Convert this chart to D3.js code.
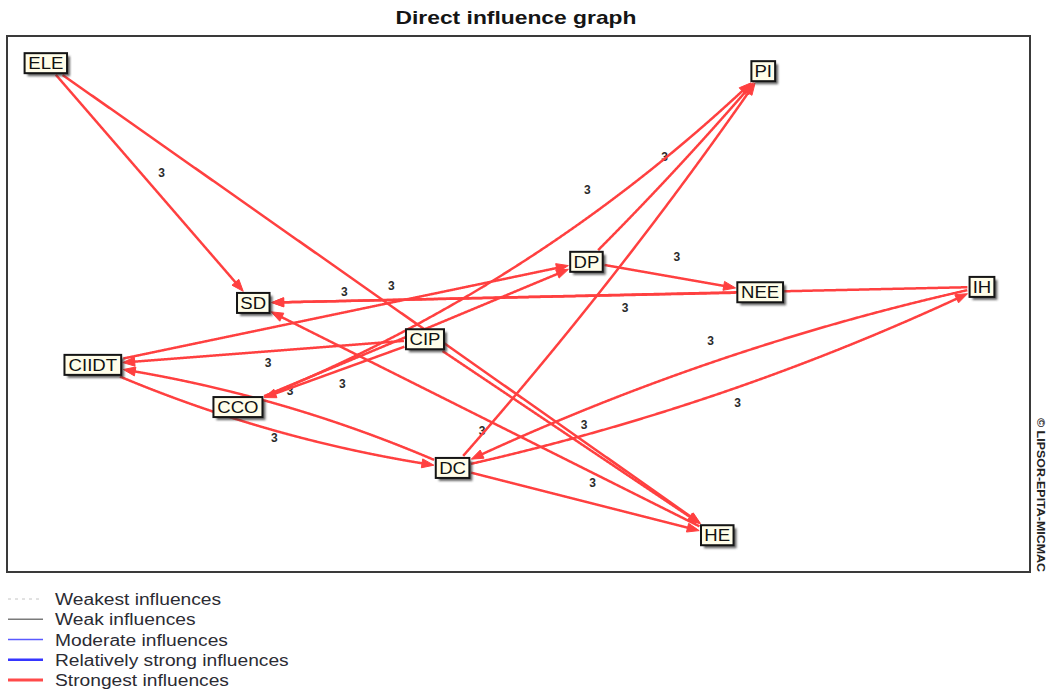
<!DOCTYPE html>
<html><head><meta charset="utf-8">
<script src="https://cdn.jsdelivr.net/npm/d3@7"></script>
<style>
body{margin:0;background:#fff;}
svg{display:block;font-family:"Liberation Sans",Arial,sans-serif;}
</style>
</head><body>
<svg id="c" width="1056" height="691"></svg>
<script>
// ---------- data ----------
const chartTitle = "Direct influence graph";
const creditText = "© LIPSOR-EPITA-MICMAC";
const nodeNames = ["ELE","PI","DP","SD","NEE","IH","CIP","CIIDT","CCO","DC","HE"];
// layout coordinates (0-1000 in both directions of the plot frame)
const nodeX = [37,739,566,240,736,953,408,83,225,435,694];
const nodeY = [49,64,421,498,478,468,566,614,693,807,933];

const edgeFrom  = ["ELE","ELE","NEE","IH","DP","CCO","DP","DC","CIP","CCO","CIP","CIIDT","DC","CIP","DC","IH","DC","CIIDT","HE"];
const edgeTo    = ["SD","HE","SD","SD","NEE","PI","PI","PI","CIIDT","DP","CCO","DC","CIIDT","HE","HE","DC","IH","DP","SD"];
const edgeValue = [3,3,3,3,3,3,3,3,3,3,3,3,3,3,3,3,3,3,3];
const edgeBend  = [0,0,0,0,0,0.10,0.02,0.03,0,0,0,0.07,0.07,0,0,0.057,0.057,0,0];
const labelT    = [0.50,0.50,0.82,0.49,0.50,0.66,0.50,0.095,0.475,0.28,0.725,0.52,null,0.51,0.51,0.49,0.52,null,null];
const labelOff  = [-16,-17,10,-13,-21,5,-14,0,-11,18,-2,20,0,-18,-20,37,30,0,0];

const legendLabels = ["Weakest influences","Weak influences","Moderate influences","Relatively strong influences","Strongest influences"];

// ---------- drawing ----------
const svg = d3.select("#c");
const xs = d3.scaleLinear().domain([0,1000]).range([8,1030]);
const ys = d3.scaleLinear().domain([0,1000]).range([37,571]);
const RED = "#ff4040";

const defs = svg.append("defs");
defs.append("filter").attr("id","sh").attr("x","-30%").attr("y","-30%").attr("width","160%").attr("height","160%")
  .append("feGaussianBlur").attr("stdDeviation",1.3);

// title
svg.append("text").attr("x",516).attr("y",24).attr("text-anchor","middle")
  .attr("font-size",19).attr("font-weight","bold").attr("fill","#151515")
  .attr("textLength",241).attr("lengthAdjust","spacingAndGlyphs").text(chartTitle);

// frame
svg.append("rect").attr("x",7).attr("y",36).attr("width",1023).attr("height",536)
  .attr("fill","#fff").attr("stroke","#3a3a3a").attr("stroke-width",2);

const labelG = svg.append("g");
const edgeG = svg.append("g");
const nodeG = svg.append("g");

// nodes (measure first)
const nodes = nodeNames.map((n,i)=>({name:n, cx:xs(nodeX[i]), cy:ys(nodeY[i])}));
const byName = {};
nodes.forEach(n=>byName[n.name]=n);

const ng = nodeG.selectAll("g.node").data(nodes).join("g").attr("class","node");
const nt = ng.append("text").attr("font-size",16).attr("fill","#111")
  .attr("text-anchor","middle").attr("x",d=>d.cx).attr("y",d=>d.cy+6).text(d=>d.name);
nt.each(function(d){ d.tw = this.getComputedTextLength(); d.w = d.tw*1.2375+5; d.h = 20; })
  .attr("textLength",d=>d.tw*1.16).attr("lengthAdjust","spacingAndGlyphs");
ng.insert("rect","text").attr("x",d=>d.cx-d.w/2).attr("y",d=>d.cy-d.h/2).attr("width",d=>d.w).attr("height",d=>d.h)
  .attr("fill","#fffde9").attr("stroke","#151515").attr("stroke-width",2);
ng.insert("rect","rect").attr("x",d=>d.cx-d.w/2+3).attr("y",d=>d.cy-d.h/2+3).attr("width",d=>d.w).attr("height",d=>d.h)
  .attr("fill","#333").attr("opacity",0.75).attr("filter","url(#sh)");

// edges
function bez(S,C,T,t){const u=1-t;return [u*u*S[0]+2*u*t*C[0]+t*t*T[0], u*u*S[1]+2*u*t*C[1]+t*t*T[1]];}
function der(S,C,T,t){return [2*(1-t)*(C[0]-S[0])+2*t*(T[0]-C[0]), 2*(1-t)*(C[1]-S[1])+2*t*(T[1]-C[1])];}
function inside(p,n){return Math.abs(p[0]-n.cx)<=n.w/2+1.5 && Math.abs(p[1]-n.cy)<=n.h/2+1.5;}

const edges = edgeFrom.map((f,i)=>{
  const s=byName[f], t=byName[edgeTo[i]];
  const S=[s.cx,s.cy], T=[t.cx,t.cy];
  const dx=T[0]-S[0], dy=T[1]-S[1], len=Math.hypot(dx,dy);
  const nx=-dy/len, ny=dx/len;
  const C=[(S[0]+T[0])/2+edgeBend[i]*len*nx, (S[1]+T[1])/2+edgeBend[i]*len*ny];
  const N=600; let t0=0,t1=1;
  for(let k=0;k<=N;k++){ if(!inside(bez(S,C,T,k/N),s)){t0=k/N;break;} }
  for(let k=N;k>=0;k--){ if(!inside(bez(S,C,T,k/N),t)){t1=k/N;break;} }
  const tip=bez(S,C,T,t1);
  const pts=[];
  for(let k=0;k<=N;k++){ const tk=t0+(t1-t0)*k/N; const p=bez(S,C,T,tk);
    if(Math.hypot(p[0]-tip[0],p[1]-tip[1])>6 || k===0) pts.push(p); }
  const dv=der(S,C,T,t1), dl=Math.hypot(dv[0],dv[1]);
  const ux=dv[0]/dl, uy=dv[1]/dl;
  const L=12, W=4.5;
  const arrow=[tip,[tip[0]-L*ux-W*uy, tip[1]-L*uy+W*ux],[tip[0]-L*ux+W*uy, tip[1]-L*uy-W*ux]];
  let lab=null;
  if(labelT[i]!==null){ lab=[S[0]+dx*labelT[i]+labelOff[i]*nx, S[1]+dy*labelT[i]+labelOff[i]*ny]; }
  return {pts, arrow, lab, value:edgeValue[i]};
});

const line = d3.line();
edgeG.selectAll("path.e").data(edges).join("path").attr("class","e")
  .attr("d",d=>line(d.pts)).attr("fill","none").attr("stroke",RED).attr("stroke-width",2.5);
edgeG.selectAll("path.a").data(edges).join("path").attr("class","a")
  .attr("d",d=>line(d.arrow)+"Z").attr("fill",RED).attr("stroke",RED).attr("stroke-width",1).attr("stroke-linejoin","round");

labelG.selectAll("text").data(edges.filter(e=>e.lab)).join("text")
  .attr("x",d=>d.lab[0]).attr("y",d=>d.lab[1]+4.5).attr("text-anchor","middle")
  .attr("font-size",12).attr("font-weight","bold").attr("fill","#2a2a2a").text(d=>d.value);

// credit
svg.append("text").attr("transform","translate(1037,495) rotate(90)").attr("text-anchor","middle")
  .attr("font-size",10.5).attr("font-weight","bold").attr("fill","#222")
  .attr("textLength",154).attr("lengthAdjust","spacingAndGlyphs").text(creditText);

// legend
const legStyles = [
  {c:"#c4c4c4",w:1,dash:"3,4"},
  {c:"#7a7a7a",w:1.5,dash:null},
  {c:"#5a5aff",w:1.3,dash:null},
  {c:"#3535ff",w:2.6,dash:null},
  {c:"#ff4a4a",w:3,dash:null}
];
const ly = d3.scalePoint().domain(legendLabels).range([599,680]);
const lg = svg.append("g").selectAll("g").data(legendLabels).join("g");
lg.append("line").attr("x1",8).attr("x2",43).attr("y1",d=>ly(d)).attr("y2",d=>ly(d))
  .attr("stroke",(d,i)=>legStyles[i].c).attr("stroke-width",(d,i)=>legStyles[i].w)
  .attr("stroke-dasharray",(d,i)=>legStyles[i].dash);
const ltx = lg.append("text").attr("x",55).attr("y",d=>ly(d)+6).attr("font-size",16).attr("fill","#2b2b33").text(d=>d);
ltx.each(function(){ d3.select(this).attr("textLength",this.getComputedTextLength()*1.2).attr("lengthAdjust","spacingAndGlyphs"); });
</script>
</body></html>
